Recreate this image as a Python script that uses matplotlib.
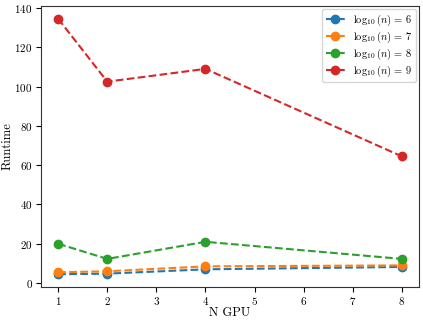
import matplotlib
matplotlib.use("Agg")
import matplotlib.pyplot as plt

plt.rcParams['font.family'] = 'serif'
plt.rcParams['font.serif'] = ['cmr10', 'DejaVu Serif']
plt.rcParams['mathtext.fontset'] = 'cm'
plt.rcParams['axes.formatter.use_mathtext'] = True

n_gpu = [1, 2, 4, 8]
runtime_6 = [4.5, 4.8, 7.0, 8.2]
runtime_7 = [5.5, 6.0, 8.5, 9.0]
runtime_8 = [20.0, 12.3, 21.0, 12.3]
runtime_9 = [134.5, 102.5, 109.0, 64.5]
series = [(6, runtime_6), (7, runtime_7), (8, runtime_8), (9, runtime_9)]

fig = plt.figure(figsize=(4.23, 3.21), dpi=100)
ax = fig.add_axes([41 / 423, 1 - 287 / 321, 378 / 423, 281 / 321])

for k, vals in series:
    ax.plot(n_gpu, vals, '--o', lw=1.5, ms=6, label=r'$\log_{10}(n)\,=\,%d$' % k)

ax.set_xlabel('N GPU', fontsize=9, labelpad=0)
ax.set_ylabel('Runtime', fontsize=9, labelpad=0.5)
ax.tick_params(labelsize=8, pad=2.5)
for s in ax.spines.values():
    s.set_color('#333333')
ax.legend(fontsize=7.5, labelspacing=0.15, handlelength=1.8, borderpad=0.35,
          borderaxespad=0.3)

fig.savefig('out.png', dpi=100)
